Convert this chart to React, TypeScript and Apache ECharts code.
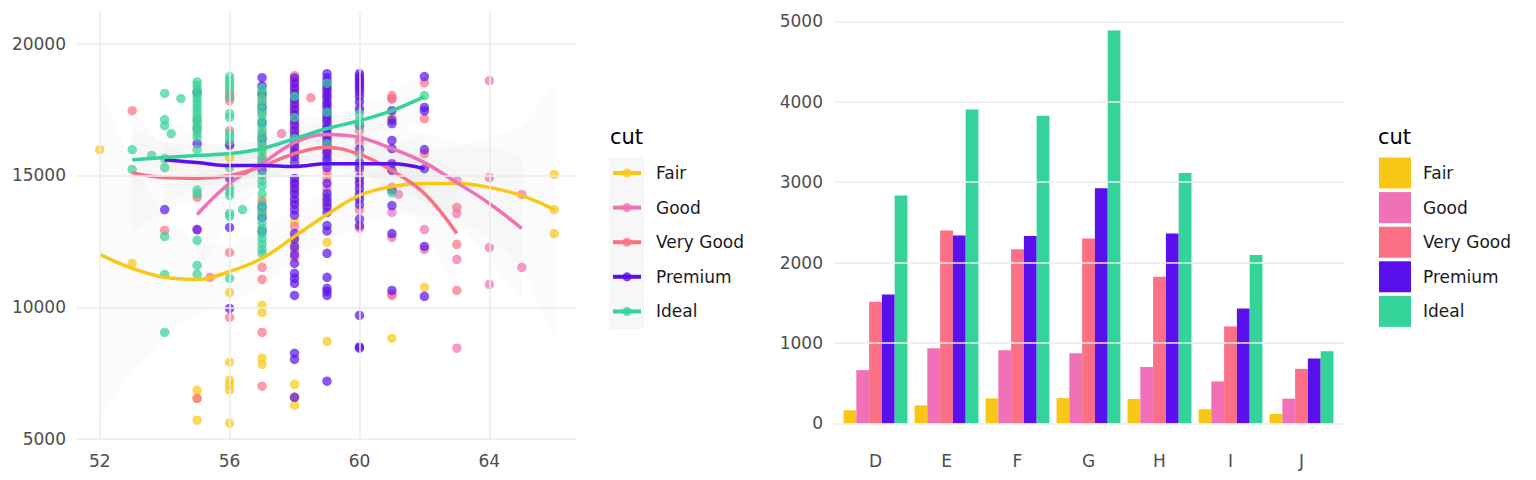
import React, { useEffect, useRef } from "react";
import * as echarts from "echarts";

const FONT = "DejaVu Sans";
const CUTS = ["Fair", "Good", "Very Good", "Premium", "Ideal"];
const CUT_COLORS = ["#f9c816", "#f171b6", "#fc7085", "#5a0fed", "#34d399"];

const TABLE_TICKS = [52, 56, 60, 64];
const PRICE_TICKS = [5000, 10000, 15000, 20000];
const COUNT_TICKS = [0, 1000, 2000, 3000, 4000, 5000];
const COLOR_CATS = ["D", "E", "F", "G", "H", "I", "J"];

// counts per colour for each cut
const FAIR_COUNTS = [163, 224, 312, 314, 303, 175, 119];
const GOOD_COUNTS = [662, 933, 909, 871, 702, 522, 307];
const VG_COUNTS = [1513, 2400, 2164, 2299, 1824, 1204, 678];
const PREMIUM_COUNTS = [1603, 2337, 2331, 2924, 2360, 1428, 808];
const IDEAL_COUNTS = [2834, 3903, 3826, 4884, 3115, 2093, 896];

// scatter points [table, price]
const FAIR_PTS = [
  [52, 15985], [53, 11667], [55, 6860], [55, 6550], [55, 5720], [56, 18200], [56, 15680], [56, 10570],
  [56, 7920], [56, 7240], [56, 7050], [56, 6860], [56, 5610], [57, 18200], [57, 16000], [57, 14100],
  [57, 10080], [57, 9810], [57, 8070], [57, 7840], [58, 17500], [58, 13260], [58, 12460], [58, 7080],
  [58, 6590], [58, 6290], [59, 12460], [59, 8710], [61, 17200], [61, 8830], [62, 10760], [66, 15040],
  [66, 13710], [66, 12800],
];
const GOOD_PTS = [
  [55, 12950], [56, 18100], [57, 17800], [57, 16200], [57, 14000], [57.6, 16590], [58, 18400], [58, 17600],
  [58, 16800], [58, 16000], [58, 14600], [59, 18000], [59, 16800], [59, 14500], [60, 18100], [60, 16250],
  [60, 14200], [61, 17900], [61.2, 14280], [61, 13600], [61, 10500], [62, 12950], [63, 14810], [63, 13560],
  [63, 11820], [63, 8450], [64, 18600], [64, 14920], [64, 12270], [64, 10870], [65, 14280], [65, 11520],
];
const VG_PTS = [
  [53, 17460], [54, 12920], [55, 17100], [55, 16780], [55, 14170], [55, 6550], [55.4, 11140], [56, 17950],
  [56, 17840], [56, 16700], [56, 16200], [56, 12080], [56, 9620], [57, 18000], [57, 17400], [57, 16600],
  [57, 15600], [57, 13600], [57, 11520], [57, 11060], [57, 9050], [57, 7010], [58, 18790], [58, 18600],
  [58, 18200], [58, 17800], [58, 17400], [58, 17000], [58, 16600], [58, 16200], [58, 15800], [58, 14800],
  [58, 14400], [58, 14000], [58, 13070], [58, 12200], [58, 11900], [58.5, 17950], [59, 18300], [59, 17700],
  [59, 17100], [59, 16500], [59, 15900], [59, 15100], [59, 14900], [59, 13900], [60, 18300], [60, 17600],
  [60, 16700], [60, 16400], [60, 15200], [60, 14800], [60, 13700], [60, 13000], [61, 18030], [61, 17920],
  [61, 14550], [61, 12650], [61, 10450], [62, 18520], [62, 17160], [62, 15830], [62, 12200], [63, 13790],
  [63, 12390], [63, 10640],
];
const PREMIUM_PTS = [
  [54, 13710], [55, 18150], [55, 16210], [55, 12950], [56, 16140], [56, 14890], [56, 13030], [56, 9960],
  [57, 18710], [57, 18400], [57, 18100], [57, 17600], [57, 17000], [57, 16400], [57, 15200], [57, 13800],
  [57, 13400], [57, 12900],
  [58, 18700], [58, 18500], [58, 18300], [58, 18100], [58, 17900], [58, 17700], [58, 17500], [58, 17300],
  [58, 17100], [58, 16900], [58, 16700], [58, 16500], [58, 16300], [58, 16100], [58, 15900], [58, 15700],
  [58, 15500], [58, 14890], [58, 14700], [58, 14500], [58, 14300], [58, 14100], [58, 13900], [58, 13700],
  [58, 13500], [58, 12800], [58, 12600], [58, 12300], [58, 12000], [58, 11670], [58, 11290], [58, 11100],
  [58, 10910], [58, 10450], [58, 8260], [58, 8030], [58, 6590],
  [59, 18860], [59, 18700], [59, 18550], [59, 18400], [59, 18250], [59, 18100], [59, 17950], [59, 17800],
  [59, 17650], [59, 17500], [59, 17350], [59, 17200], [59, 17050], [59, 16900], [59, 16750], [59, 16600],
  [59, 16450], [59, 16300], [59, 16150], [59, 16000], [59, 15850], [59, 15700], [59, 15570], [59, 15300],
  [59, 14700], [59, 14320], [59, 14150], [59, 14000], [59, 13800], [59, 13600], [59, 13100], [59, 12900],
  [59, 12050], [59, 11140], [59, 10720], [59, 10600], [59, 10450], [59, 7200],
  [60, 18860], [60, 18750], [60, 18650], [60, 18550], [60, 18450], [60, 18350], [60, 18200], [60, 18000],
  [60, 17800], [60, 17500], [60, 16900], [60, 16000], [60, 15500], [60, 15300], [60, 14920], [60, 14700],
  [60, 14500], [60, 14300], [60, 14100], [60, 13900], [60, 13350], [60, 13100], [60, 9700], [60, 8500],
  [60, 8450],
  [61, 17460], [61, 17100], [61, 16970], [61, 16330], [61, 16020], [61, 15450], [61, 15190], [61, 14450],
  [61, 13860], [61, 12800], [61, 10640],
  [62, 18750], [62, 17580], [62, 17450], [62, 15985], [62, 15260], [62, 12310], [62, 10420],
];
const IDEAL_PTS = [
  [53, 15985], [53, 15230], [53.6, 15760], [54, 18110], [54, 17120], [54, 16890], [54, 15640], [54, 15300],
  [54, 12690], [54, 11250], [54, 9050], [54.2, 16590], [54.5, 17920],
  [55, 18550], [55, 18400], [55, 18250], [55, 18100], [55, 17950], [55, 17800], [55, 17650], [55, 17500],
  [55, 17350], [55, 17200], [55, 17050], [55, 16900], [55, 16750], [55, 16600], [55, 16450], [55, 15985],
  [55, 14450], [55, 14300], [55, 12540], [55, 11590], [55, 11250],
  [56, 18750], [56, 18600], [56, 18450], [56, 18300], [56, 18000], [56, 17350], [56, 17200], [56, 16600],
  [56, 16450], [56, 16300], [56, 15300], [56, 14550], [56, 14400], [56, 14250], [56, 13560], [56, 13450],
  [56, 11100], [56.4, 13710],
  [57, 18300], [57, 18100], [57, 17900], [57, 17700], [57, 17500], [57, 17300], [57, 17100], [57, 16900],
  [57, 16700], [57, 16500], [57, 16300], [57, 16100], [57, 15900], [57, 15700], [57, 15500], [57, 15000],
  [57, 14800], [57, 14600], [57, 14300], [57, 13900], [57, 13700], [57, 13500], [57, 13200], [57, 13000],
  [57, 12800], [57, 12600], [57, 12400], [57, 12200], [57, 12050],
  [58, 18000], [58, 17200], [58, 16400], [59, 18500], [59, 17400], [59, 16200],
  [60, 17350], [60, 17100], [60, 16900], [60, 15800], [61, 14350], [62, 18030],
];

// smoothed fits and their confidence bands
const FAIR_FIT_X = [52, 53, 54, 55, 56, 57, 58, 59, 60, 61, 62, 63, 64, 65, 66];
const FAIR_FIT = [12010, 11480, 11140, 11060, 11360, 11860, 12690, 13520, 14250, 14580, 14700, 14700, 14550, 14240, 13710];
const FAIR_LO = [5800, 7600, 8900, 9700, 10200, 10800, 11700, 12500, 13100, 13500, 13500, 13300, 12700, 11500, 8900];
const FAIR_HI = [18300, 15400, 13400, 12400, 12400, 12900, 13700, 14500, 15300, 15700, 15900, 16100, 16400, 16900, 18500];

const GOOD_FIT_X = [55, 56, 57, 58, 59, 60, 61, 62, 63, 64, 65];
const GOOD_FIT = [13520, 14700, 15450, 16250, 16550, 16440, 16020, 15490, 14730, 13940, 12990];
const GOOD_LO = [11200, 13400, 14550, 15450, 15750, 15640, 15120, 14390, 13230, 11840, 10190];
const GOOD_HI = [15820, 16000, 16350, 17050, 17350, 17240, 16920, 16590, 16230, 16040, 15790];

const VG_FIT_X = [53, 54, 55, 56, 57, 58, 59, 60, 61, 62, 63];
const VG_FIT = [15110, 14920, 14890, 15000, 15350, 15830, 16060, 15800, 15190, 14320, 12800];
const VG_LO = [12810, 13720, 14090, 14300, 14750, 15230, 15460, 15100, 14290, 12920, 10400];
const VG_HI = [17410, 16120, 15690, 15700, 15950, 16430, 16660, 16500, 16090, 15720, 15200];

const PREMIUM_FIT_X = [54, 55, 56, 57, 58, 59, 60, 61, 62];
const PREMIUM_FIT = [15600, 15490, 15380, 15380, 15340, 15450, 15450, 15450, 15260];
const PREMIUM_LO = [13900, 14590, 14780, 14930, 14940, 15050, 15000, 14750, 13960];
const PREMIUM_HI = [17300, 16390, 15980, 15830, 15740, 15850, 15900, 16150, 16560];

const IDEAL_FIT_X = [53, 54, 55, 56, 57, 58, 59, 60, 61, 62];
const IDEAL_FIT = [15600, 15680, 15760, 15830, 16020, 16400, 16780, 17080, 17460, 17990];
const IDEAL_LO = [14500, 15080, 15360, 15480, 15670, 16050, 16380, 16580, 16760, 16990];
const IDEAL_HI = [16700, 16280, 16160, 16180, 16370, 16750, 17180, 17580, 18160, 18990];

const PTS = [FAIR_PTS, GOOD_PTS, VG_PTS, PREMIUM_PTS, IDEAL_PTS];
const FITS = [
  [FAIR_FIT_X, FAIR_FIT, FAIR_LO, FAIR_HI],
  [GOOD_FIT_X, GOOD_FIT, GOOD_LO, GOOD_HI],
  [VG_FIT_X, VG_FIT, VG_LO, VG_HI],
  [PREMIUM_FIT_X, PREMIUM_FIT, PREMIUM_LO, PREMIUM_HI],
  [IDEAL_FIT_X, IDEAL_FIT, IDEAL_LO, IDEAL_HI],
];
const COUNTS = [FAIR_COUNTS, GOOD_COUNTS, VG_COUNTS, PREMIUM_COUNTS, IDEAL_COUNTS];

const GRID_COLOR = "#ebebeb";
const AXIS_TEXT = "#4d4d4d";

function buildOption() {
  const series: any[] = [];

  // gridlines, left panel
  series.push({
    type: "line",
    xAxisIndex: 0,
    yAxisIndex: 0,
    data: [],
    silent: true,
    z: 0,
    markLine: {
      silent: true,
      symbol: ["none", "none"],
      animation: false,
      label: { show: false },
      lineStyle: { color: GRID_COLOR, width: 1.5, type: "solid" },
      data: [
        ...TABLE_TICKS.map((v) => ({ xAxis: v })),
        ...PRICE_TICKS.map((v) => ({ yAxis: v })),
      ],
    },
  });
  // gridlines, right panel
  series.push({
    type: "line",
    xAxisIndex: 2,
    yAxisIndex: 2,
    data: [],
    silent: true,
    z: 0,
    markLine: {
      silent: true,
      symbol: ["none", "none"],
      animation: false,
      label: { show: false },
      lineStyle: { color: GRID_COLOR, width: 1.5, type: "solid" },
      data: COUNT_TICKS.map((v) => ({ yAxis: v })),
    },
  });

  CUTS.forEach((cut, i) => {
    series.push({
      name: cut,
      type: "scatter",
      xAxisIndex: 0,
      yAxisIndex: 0,
      data: PTS[i],
      symbolSize: 9.5,
      itemStyle: { color: CUT_COLORS[i], opacity: 0.7 },
      z: 2,
      silent: true,
    });
  });

  CUTS.forEach((cut, i) => {
    const [xs, , lo, hi] = FITS[i];
    series.push({
      type: "custom",
      xAxisIndex: 0,
      yAxisIndex: 0,
      silent: true,
      clip: true,
      z: 3,
      data: [[xs[0], lo[0]]],
      encode: { x: 0, y: 1 },
      renderItem: (params: any, api: any) => {
        const pts: number[][] = [];
        for (let k = 0; k < xs.length; k++) pts.push(api.coord([xs[k], hi[k]]));
        for (let k = xs.length - 1; k >= 0; k--) pts.push(api.coord([xs[k], lo[k]]));
        return {
          type: "polygon",
          shape: { points: pts },
          style: { fill: "rgba(153,153,153,0.045)", stroke: null },
        };
      },
    });
  });

  CUTS.forEach((cut, i) => {
    const [xs, fit] = FITS[i];
    series.push({
      type: "line",
      xAxisIndex: 0,
      yAxisIndex: 0,
      data: xs.map((x: number, k: number) => [x, fit[k]]),
      showSymbol: false,
      smooth: 0.4,
      silent: true,
      z: 4,
      lineStyle: { color: CUT_COLORS[i], width: 3.5 },
    });
  });

  CUTS.forEach((cut, i) => {
    series.push({
      name: cut,
      type: "bar",
      xAxisIndex: 1,
      yAxisIndex: 1,
      data: COUNTS[i],
      barGap: "0%",
      barCategoryGap: "10%",
      itemStyle: { color: CUT_COLORS[i] },
      silent: true,
      z: 2,
    });
  });

  const legendY = (k: number) => 173 + k * 34.6;
  const graphics: any[] = [];
  // left legend
  graphics.push({ type: "text", x: 610, y: 137, style: { text: "cut", fontSize: 21, fontFamily: FONT, fill: "#000", verticalAlign: "middle" } });
  graphics.push({ type: "rect", shape: { x: 609, y: 157, width: 35, height: 172 }, style: { fill: "#f7f7f7" } });
  CUTS.forEach((cut, k) => {
    const y = legendY(k);
    graphics.push({ type: "line", shape: { x1: 613, y1: y, x2: 641, y2: y }, style: { stroke: CUT_COLORS[k], lineWidth: 4 } });
    graphics.push({ type: "circle", shape: { cx: 627, cy: y, r: 4.5 }, style: { fill: CUT_COLORS[k], opacity: 0.8 } });
    graphics.push({ type: "text", x: 656, y, style: { text: cut, fontSize: 17, fontFamily: FONT, fill: "#1a1a1a", verticalAlign: "middle" } });
  });
  // right legend
  graphics.push({ type: "text", x: 1378, y: 137, style: { text: "cut", fontSize: 21, fontFamily: FONT, fill: "#000", verticalAlign: "middle" } });
  CUTS.forEach((cut, k) => {
    const y = legendY(k);
    graphics.push({ type: "rect", shape: { x: 1379, y: y - 15.5, width: 32, height: 31 }, style: { fill: CUT_COLORS[k] } });
    graphics.push({ type: "text", x: 1423, y, style: { text: cut, fontSize: 17, fontFamily: FONT, fill: "#1a1a1a", verticalAlign: "middle" } });
  });

  const plain = (v: number) => String(v);
  const labelStyle = { color: AXIS_TEXT, fontSize: 17, fontFamily: FONT, formatter: plain };

  return {
    animation: false,
    backgroundColor: "#ffffff",
    textStyle: { fontFamily: FONT },
    grid: [
      { left: 77, top: 12, width: 500, height: 428 },
      { left: 840, top: 11, width: 497, height: 432 },
      { left: 834, top: 11, width: 510, height: 432 },
    ],
    xAxis: [
      {
        type: "value", gridIndex: 0, min: 51.3, max: 66.7,
        axisLine: { show: false }, axisTick: { show: false }, splitLine: { show: false },
        axisLabel: { ...labelStyle, margin: 12, customValues: TABLE_TICKS },
      },
      {
        type: "category", gridIndex: 1, data: COLOR_CATS,
        axisLine: { show: false }, axisTick: { show: false }, splitLine: { show: false },
        axisLabel: { color: AXIS_TEXT, fontSize: 17, fontFamily: FONT, margin: 9 },
      },
      {
        type: "value", gridIndex: 2, min: 0, max: 1, show: false,
      },
    ],
    yAxis: [
      {
        type: "value", gridIndex: 0, min: 4970, max: 21200,
        axisLine: { show: false }, axisTick: { show: false }, splitLine: { show: false },
        axisLabel: { ...labelStyle, margin: 11, customValues: PRICE_TICKS },
      },
      {
        type: "value", gridIndex: 1, min: -244, max: 5128,
        axisLine: { show: false }, axisTick: { show: false }, splitLine: { show: false },
        axisLabel: { ...labelStyle, margin: 17, customValues: COUNT_TICKS },
      },
      {
        type: "value", gridIndex: 2, min: -244, max: 5128, show: false,
      },
    ],
    graphic: graphics,
    series,
  };
}

export default function App() {
  const ref = useRef<HTMLDivElement>(null);
  useEffect(() => {
    document.body.style.margin = "0";
    if (!ref.current) return;
    const chart = echarts.init(ref.current, null, { renderer: "svg" });
    chart.setOption(buildOption());
    return () => chart.dispose();
  }, []);
  return <div ref={ref} style={{ width: 1536, height: 480 }} />;
}
